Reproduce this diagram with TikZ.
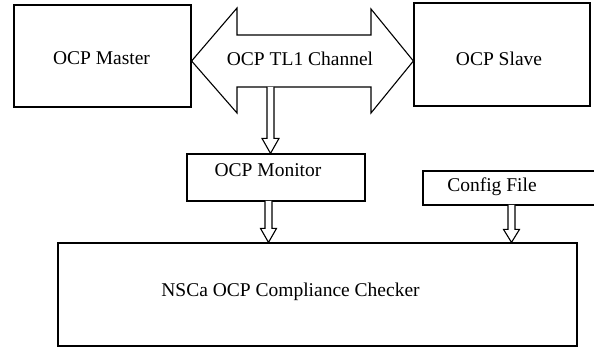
\documentclass[tikz,border=0pt]{standalone}
\usepackage{fontspec}
\setmainfont{Liberation Serif}
\usetikzlibrary{calc}
\tikzset{
  box/.style={draw, line width=1.2pt, rectangle, inner sep=0pt},
  txt/.style={anchor=base, inner sep=0pt, font=\fontsize{19.5}{23}\selectfont},
  blk/.style={draw, line width=1.1pt, fill=white, line join=miter}
}
\begin{document}
\begin{tikzpicture}[x=1pt,y=-1pt]
\useasboundingbox (0,0) rectangle (594,347);
% boxes
\node[box, minimum width=177pt, minimum height=102pt] (master) at (102.5,56) {};
\node[box, minimum width=176pt, minimum height=103pt] (slave) at (502,54.5) {};
\node[box, minimum width=178pt, minimum height=47pt] (mon) at (276,177.5) {};
\node[box, minimum width=519pt, minimum height=103pt] (main) at (317.5,294.5) {};
% config box (open at the right edge)
\coordinate (cfgtr) at (594,171);
\coordinate (cfgtl) at (423,171);
\coordinate (cfgbl) at (423,205);
\coordinate (cfgbr) at (594,205);
\draw[line width=1.2pt] (cfgtr) -- (cfgtl) -- (cfgbl) -- (cfgbr);
% double arrow channel
\coordinate (ltip) at (master.east |- 0,61);
\coordinate (rtip) at (slave.west |- 0,61);
\draw[blk] (ltip) -- (237,8) -- (237,35) -- (371,35) -- (371,9) -- (rtip)
  -- (371,113) -- (371,87) -- (237,87) -- (237,113) -- cycle;
% texts
\node[txt] (tmaster) at (101.5,65) {OCP Master};
\node[txt] (tslave) at (499,66) {OCP Slave};
\node[txt] (tchan) at (300,66) {OCP TL1 Channel};
\node[txt] (tmon) at (268,177) {OCP Monitor};
\node[txt] (tcfg) at (492,192) {Config File};
\node[txt] (tmain) at (290.5,297) {NSCa OCP Compliance Checker};
% block arrows
\coordinate (chanbot) at (270.5,87);
\coordinate (monbot) at (268.5,201);
\coordinate (cfgbot) at (511.5,205);
\draw[blk] let \p1=(chanbot), \p2=(chanbot |- mon.north) in
  (\x1-3.5pt,\y1) -- (\x1-3.5pt,\y2+15pt) -- (\x1-8.5pt,\y2+15pt) -- (\x1,\y2)
  -- (\x1+8.5pt,\y2+15pt) -- (\x1+3.5pt,\y2+15pt) -- (\x1+3.5pt,\y1);
\draw[blk] let \p1=(monbot), \p2=(monbot |- main.north) in
  (\x1-3.5pt,\y1) -- (\x1-3.5pt,\y2+14pt) -- (\x1-8pt,\y2+14pt) -- (\x1,\y2)
  -- (\x1+8pt,\y2+14pt) -- (\x1+3.5pt,\y2+14pt) -- (\x1+3.5pt,\y1);
\draw[blk] let \p1=(cfgbot), \p2=(cfgbot |- main.north) in
  (\x1-3.5pt,\y1) -- (\x1-3.5pt,\y2+13pt) -- (\x1-8pt,\y2+13pt) -- (\x1,\y2)
  -- (\x1+8pt,\y2+13pt) -- (\x1+3.5pt,\y2+13pt) -- (\x1+3.5pt,\y1);
\end{tikzpicture}
\end{document}
